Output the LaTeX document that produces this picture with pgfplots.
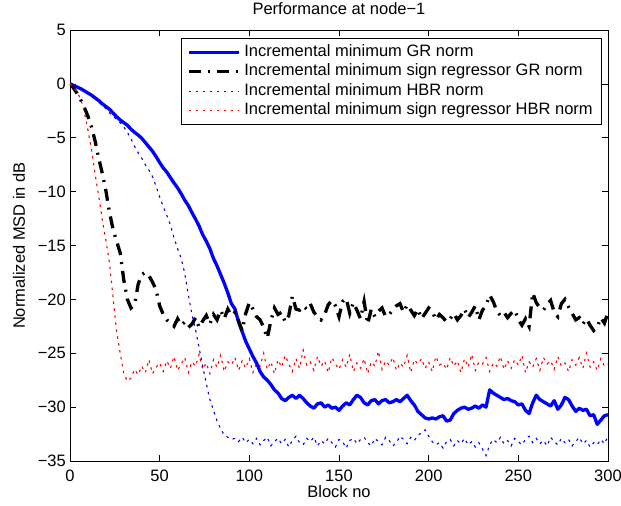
\documentclass[border=0pt]{standalone}
\usepackage{fontspec}
\setmainfont{Liberation Sans}
\usepackage{pgfplots}
\usepackage{pgfplotstable}
\pgfplotsset{compat=1.18}

% Normalized MSD (dB) per block for the four incremental algorithms
\pgfplotstableread{
x   gr      sgr     hbr     shbr
0   0.00    0.0     0.0     0.0
2   -0.15   -0.4    -0.1    -0.3
4   -0.30   -0.9    -0.3    -0.8
6   -0.45   -1.5    -0.5    -1.4
8   -0.65   -2.2    -0.7    -2.6
10  -0.85   -3.0    -0.9    -4.3
12  -1.05   -4.0    -1.1    -6.1
14  -1.30   -5.3    -1.4    -8.4
16  -1.55   -6.9    -1.7    -10.4
18  -1.85   -8.3    -2.0    -12.6
20  -2.10   -9.9    -2.3    -14.5
22  -2.35   -11.9   -2.7    -16.6
24  -2.70   -13.5   -3.0    -19.8
26  -3.05   -14.6   -3.3    -23.0
28  -3.35   -15.7   -3.6    -25.0
30  -3.60   -18.2   -4.0    -26.9
32  -3.85   -20.0   -4.5    -27.6
34  -4.20   -20.8   -5.1    -27.3
36  -4.50   -20.5   -5.8    -26.5
38  -4.75   -18.6   -6.4    -27.0
40  -5.05   -17.7   -6.9    -26.2
42  -5.45   -17.5   -7.5    -26.8
44  -5.85   -17.8   -8.0    -25.6
46  -6.25   -18.4   -8.6    -26.9
48  -6.75   -19.1   -9.5    -26.3
50  -7.30   -20.6   -10.5   -25.9
52  -7.80   -21.4   -11.4   -26.7
54  -8.20   -21.9   -12.2   -25.7
56  -8.70   -22.2   -13.1   -26.4
58  -9.20   -22.5   -14.3   -25.3
60  -9.65   -21.8   -15.3   -26.6
62  -10.20  -22.4   -16.2   -26.0
64  -10.80  -22.1   -17.6   -25.4
66  -11.30  -22.6   -19.6   -26.8
68  -11.95  -22.3   -21.4   -25.8
70  -12.55  -21.7   -22.8   -26.2
72  -13.20  -22.6   -24.5   -25.1
74  -14.00  -22.0   -26.2   -26.5
76  -14.60  -21.5   -27.8   -25.9
78  -15.30  -22.3   -29.3   -26.9
80  -16.20  -21.4   -30.3   -25.6
82  -16.90  -21.9   -31.3   -26.3
84  -17.70  -21.0   -32.0   -25.2
86  -18.50  -21.8   -32.6   -26.7
88  -19.40  -20.9   -32.8   -25.8
90  -20.40  -21.5   -33.0   -26.1
92  -20.90  -21.2   -32.9   -25.4
94  -22.10  -22.0   -33.2   -26.6
96  -23.00  -22.9   -32.8   -25.7
98  -23.90  -21.3   -33.3   -26.4
100 -24.60  -20.3   -33.0   -25.5
102 -25.30  -20.9   -33.4   -26.8
104 -25.90  -21.6   -32.9   -25.9
106 -26.70  -21.9   -33.5   -26.2
108 -27.20  -22.6   -33.1   -25.0
110 -27.50  -23.6   -32.8   -26.5
112 -27.90  -22.0   -33.6   -25.8
114 -28.40  -20.8   -33.2   -26.9
116 -28.70  -21.4   -32.9   -25.6
118 -29.20  -21.2   -33.4   -26.3
120 -29.40  -22.1   -33.0   -25.2
122 -29.10  -21.5   -33.7   -26.0
124 -28.90  -19.7   -33.1   -26.7
126 -29.20  -20.9   -32.7   -25.5
128 -28.90  -21.0   -33.3   -26.4
130 -29.20  -20.6   -33.5   -24.7
132 -29.60  -20.9   -32.9   -26.1
134 -29.90  -20.4   -33.2   -25.8
136 -30.10  -21.2   -32.8   -26.6
138 -29.70  -21.6   -33.6   -25.3
140 -29.60  -21.9   -33.1   -26.2
142 -30.00  -21.4   -33.4   -25.7
144 -29.80  -20.5   -32.9   -26.8
146 -30.10  -20.1   -33.3   -25.4
148 -30.00  -20.6   -33.7   -26.0
150 -30.30  -21.6   -33.0   -26.5
152 -29.90  -20.2   -33.2   -25.6
154 -29.60  -19.9   -33.8   -26.3
156 -29.80  -21.3   -33.1   -25.1
158 -29.30  -20.3   -32.9   -26.7
160 -28.90  -21.0   -33.4   -25.9
162 -29.10  -21.8   -33.0   -26.4
164 -29.60  -20.2   -32.8   -25.5
166 -29.80  -22.3   -33.3   -26.9
168 -29.40  -20.9   -33.6   -25.8
170 -29.30  -21.6   -32.9   -26.2
172 -29.70  -21.1   -33.2   -24.8
174 -29.40  -20.8   -33.5   -26.5
176 -29.30  -21.6   -32.8   -25.7
178 -29.60  -21.4   -33.1   -26.1
180 -29.50  -21.0   -33.6   -25.4
182 -29.30  -20.6   -33.3   -26.6
184 -29.50  -20.4   -32.7   -25.9
186 -29.20  -21.2   -33.0   -26.3
188 -28.90  -20.5   -33.4   -25.2
190 -29.40  -21.0   -32.8   -26.8
192 -29.80  -21.5   -33.1   -25.6
194 -30.40  -20.9   -32.6   -26.0
196 -30.70  -21.8   -32.4   -25.5
198 -31.00  -21.3   -32.1   -26.4
200 -31.10  -20.8   -32.7   -25.8
202 -31.00  -21.1   -33.2   -26.7
204 -31.10  -21.9   -33.5   -25.3
206 -30.90  -21.4   -33.3   -26.1
208 -30.80  -21.7   -33.8   -25.9
210 -31.30  -22.1   -33.2   -26.5
212 -31.20  -21.8   -33.0   -25.4
214 -30.60  -21.3   -33.6   -26.2
216 -30.30  -21.9   -33.1   -25.7
218 -30.10  -21.5   -33.4   -26.8
220 -30.00  -20.9   -32.9   -25.5
222 -30.20  -21.7   -33.5   -26.3
224 -30.10  -21.2   -33.2   -25.1
226 -29.90  -20.6   -33.7   -26.6
228 -30.10  -21.9   -33.3   -25.8
230 -29.80  -21.0   -33.9   -26.0
232 -30.00  -20.6   -34.5   -25.4
234 -28.40  -19.6   -33.5   -26.7
236 -28.70  -20.2   -33.0   -25.9
238 -28.90  -21.1   -33.3   -26.2
240 -29.10  -21.5   -32.8   -25.3
242 -29.30  -21.2   -33.4   -26.5
244 -29.20  -21.7   -33.1   -25.7
246 -29.40  -21.3   -33.6   -26.4
248 -29.50  -21.0   -32.9   -25.6
250 -29.80  -21.9   -33.2   -26.1
252 -29.70  -22.4   -33.5   -25.2
254 -30.30  -21.8   -33.0   -26.8
256 -30.60  -22.5   -32.7   -25.8
258 -29.60  -19.4   -33.3   -26.3
260 -28.90  -20.3   -32.9   -25.5
262 -29.30  -20.8   -33.4   -26.6
264 -29.50  -21.0   -33.1   -25.4
266 -29.70  -20.5   -33.6   -26.0
268 -29.90  -20.1   -32.8   -25.7
270 -29.40  -21.2   -33.2   -26.5
272 -30.20  -21.6   -33.5   -25.3
274 -29.80  -20.4   -32.9   -26.2
276 -29.10  -20.0   -33.3   -25.9
278 -29.30  -20.7   -33.0   -26.7
280 -29.90  -21.3   -33.6   -25.6
282 -30.40  -21.9   -33.2   -26.1
284 -30.10  -21.7   -32.8   -25.4
286 -30.30  -22.3   -33.4   -26.4
288 -30.20  -21.8   -33.1   -25.0
290 -30.80  -22.4   -33.7   -26.3
292 -30.70  -22.9   -33.3   -25.8
294 -31.60  -22.6   -33.5   -26.6
296 -31.20  -21.7   -33.0   -25.5
298 -30.80  -22.2   -33.4   -26.2
300 -30.70  -21.2   -32.7   -26.0
}\msdtable

\begin{document}
\begin{tikzpicture}[font=\fontsize{16.5bp}{19.5bp}\selectfont]
\begin{axis}[
  scale only axis,
  width=538bp, height=431bp,
  xmin=0, xmax=300, ymin=-35, ymax=5,
  /pgf/number format/assume math mode=true,
  xtick={0,50,...,300},
  xticklabels={0,50,100,150,200,250,300},
  ytick={-35,-30,...,5},
  yticklabels={−35,−30,−25,−20,−15,−10,−5,0,5},
  tick align=inside,
  major tick length=6bp,
  tick style={black, line width=0.6bp},
  axis line style={black, line width=0.9bp},
  xticklabel style={anchor=north, inner sep=0bp, yshift=-9bp},
  yticklabel style={anchor=east, inner sep=0bp, xshift=-4bp},
  title={Performance at node−1},
  title style={at={(rel axis cs:0.5,1)}, anchor=base, yshift=9.5bp, inner sep=0bp},
  every axis x label/.style={at={(rel axis cs:0.5,0)}, anchor=base, yshift=-36.7bp, inner sep=0bp},
  xlabel={Block no},
  every axis y label/.style={at={(rel axis cs:0,0.5)}, xshift=-45bp, rotate=90, anchor=base, inner sep=0bp},
  ylabel={Normalized MSD in dB},
  legend cell align=left,
  legend image code/.code={\draw[#1] (0bp,0bp) -- (50bp,0bp);},
  legend style={at={(rel axis cs:0.987,0.981)}, anchor=north east,
    draw=black, line width=0.5bp, inner xsep=6bp, inner ysep=4bp,
    row sep=0bp, column sep=2bp,
    nodes={inner sep=2bp, text height=12bp, text depth=3.5bp}},
]
\coordinate (sw) at (rel axis cs:0,0);
\coordinate (ne) at (rel axis cs:1,1);
\addplot[blue, line width=3.3bp, line join=round] table[x=x, y=gr] {\msdtable};
\addlegendentry{Incremental minimum GR norm}
\addplot[black, line width=3.3bp, dash pattern=on 12bp off 7bp on 2bp off 7bp] table[x=x, y=sgr] {\msdtable};
\addlegendentry{Incremental minimum sign regressor GR norm}
\addplot[blue, line width=1.1bp, dash pattern=on 2.5bp off 4.5bp] table[x=x, y=hbr] {\msdtable};
\addlegendentry{Incremental minimum HBR norm}
\addplot[red, line width=1.1bp, dash pattern=on 2.5bp off 4.5bp] table[x=x, y=shbr] {\msdtable};
\addlegendentry{Incremental minimum sign regressor HBR norm}
\end{axis}
\pgfresetboundingbox
\path[use as bounding box] ([shift={(-70bp,-45bp)}]sw) rectangle ([shift={(13bp,30bp)}]ne);
\end{tikzpicture}
\end{document}
